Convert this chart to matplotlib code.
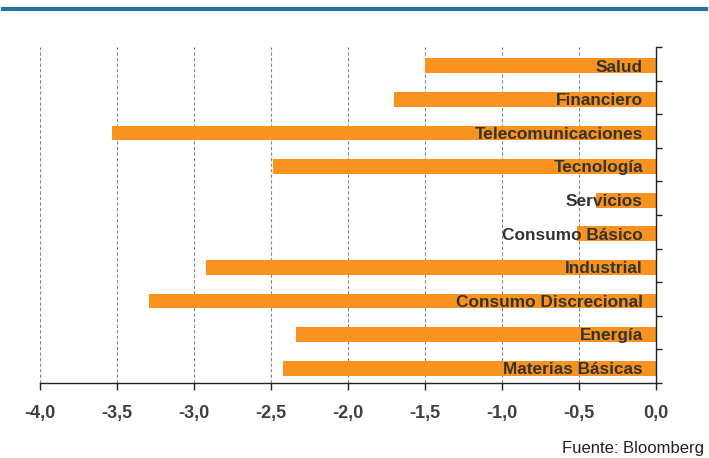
import matplotlib
matplotlib.use("Agg")
import matplotlib.pyplot as plt
from matplotlib.lines import Line2D
import numpy as np

categories = ["Salud", "Financiero", "Telecomunicaciones", "Tecnología", "Servicios",
              "Consumo Básico", "Industrial", "Consumo Discrecional", "Energía", "Materias Básicas"]
values = [-1.50, -1.70, -3.53, -2.49, -0.39, -0.51, -2.92, -3.29, -2.34, -2.42]
xticks = [-4.0, -3.5, -3.0, -2.5, -2.0, -1.5, -1.0, -0.5, 0.0]
xtick_labels = ["-4,0", "-3,5", "-3,0", "-2,5", "-2,0", "-1,5", "-1,0", "-0,5", "0,0"]
source = "Fuente: Bloomberg"

plt.rcParams['font.family'] = ['Liberation Sans', 'DejaVu Sans']

fig = plt.figure(figsize=(7.09, 4.58), dpi=100)
W, H = 709, 458
ax = fig.add_axes([40 / W, (H - 383) / H, (656 - 40) / W, (383 - 47) / H])

n = len(categories)
ypos = np.arange(n)
ax.barh(ypos + 0.06, values, height=0.44, color="#F7931E", zorder=2)
ax.set_ylim(n - 0.5, -0.5)
ax.set_xlim(-4.0, 0.0)

for y, lab in zip(ypos, categories):
    ax.text(-0.085, y + 0.1, lab, ha="right", va="center", fontsize=12.4,
            fontweight="bold", color="#333333", zorder=3)

ax.set_xticks(xticks)
ax.set_xticklabels(xtick_labels, fontsize=13, fontweight="bold", color="#404040")
ax.tick_params(axis="x", direction="out", length=5, width=1, color="#222222", pad=11)
for xv in xticks[:-1]:
    ax.axvline(xv, color="#888888", lw=0.8, ls=(0, (3, 2)), zorder=1)

ax.yaxis.tick_right()
ax.set_yticks([])
ax.set_yticks(np.arange(-0.5, n, 1.0), minor=True)
ax.tick_params(axis="y", which="minor", direction="out", length=4, width=1, color="#222222")
ax.yaxis.set_tick_params(which="minor", labelright=False, labelleft=False)

for s in ["top", "left"]:
    ax.spines[s].set_visible(False)
for s in ["bottom", "right"]:
    ax.spines[s].set_color("#222222")
    ax.spines[s].set_linewidth(1)

fig.add_artist(Line2D([3 / W, 706 / W], [1 - 9 / H, 1 - 9 / H], color="#2474A0", lw=3))
fig.text(704 / W, 1 - 449 / H, source, ha="right", va="center", fontsize=12, color="#222222")

fig.savefig("out.png", dpi=100)
